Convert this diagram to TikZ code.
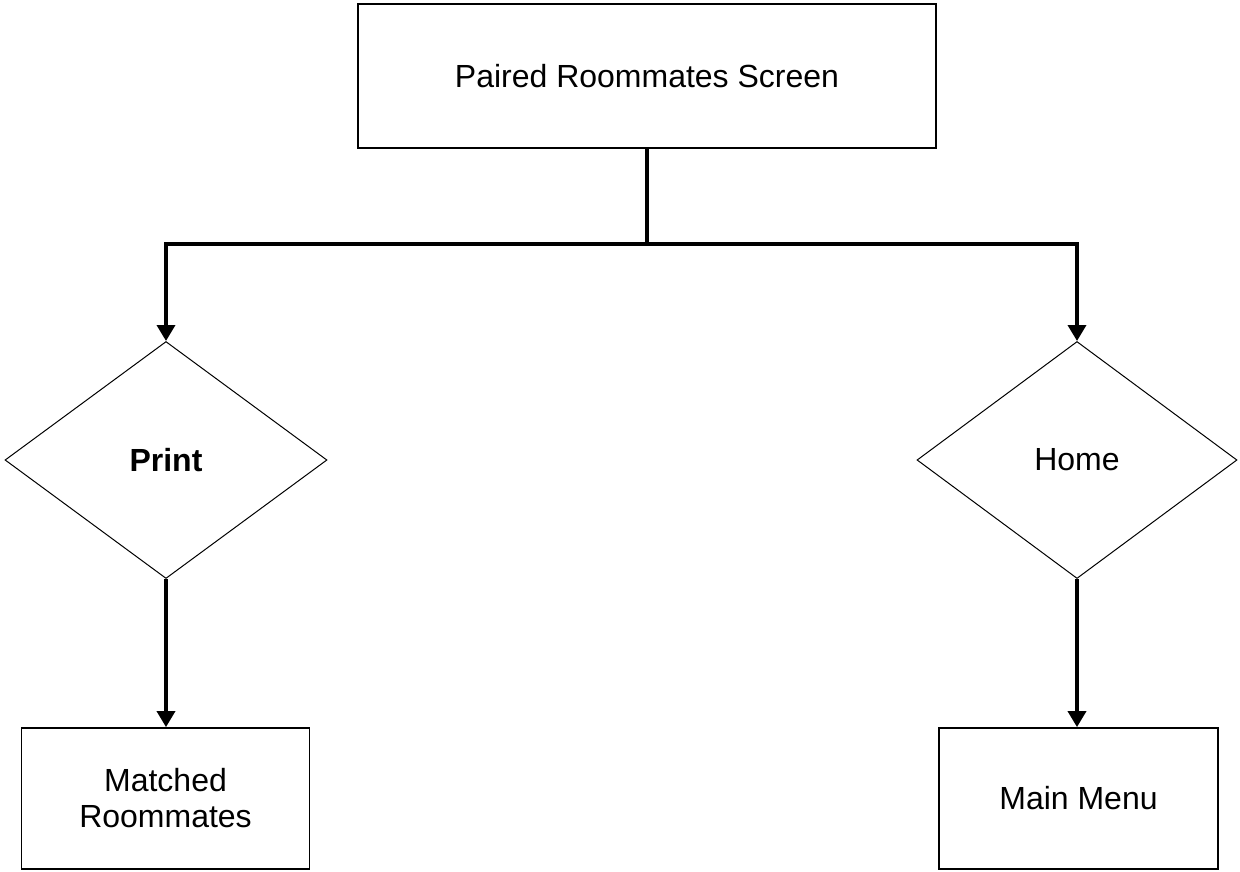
\documentclass[tikz,border=0pt]{standalone}
\usepackage{fontspec}
\setmainfont{Liberation Sans}
\usetikzlibrary{shapes.geometric,arrows.meta}
\begin{document}
\begin{tikzpicture}[x=1pt,y=-1pt,
  every node/.style={font=\fontsize{32}{36}\selectfont, align=center, inner sep=0pt},
  boxnode/.style={draw, line width=1.8pt, rectangle},
  decision/.style={draw, line width=1pt, diamond, aspect=1.35},
  conn/.style={line width=3.6pt},
  arr/.style={conn, -{Triangle[width=18pt,length=16pt]}}]
\useasboundingbox (0,0) rectangle (1240,871);
\fill[white] (0,0) rectangle (1240,871);
\node[boxnode, minimum width=578pt, minimum height=144pt] (top) at (647,76) {Paired Roommates Screen};
\node[decision, minimum width=322pt, minimum height=237pt] (print) at (166,460) {\bfseries Print};
\node[decision, minimum width=320pt, minimum height=237pt] (home) at (1077,460) {Home};
\node[boxnode, minimum width=288pt, minimum height=141pt] (matched) at (165.5,798.5) {Matched\\Roommates};
\node[boxnode, minimum width=279pt, minimum height=141pt] (menu) at (1078.5,798.5) {Main Menu};
\coordinate (j) at (647,244);
\draw[conn] (top.south) -- (j);
\draw[arr] (j) -| (print.north);
\draw[arr] (j) -| (home.north);
\draw[arr] (print.south) -- (print.south |- matched.north);
\draw[arr] (home.south) -- (home.south |- menu.north);
\end{tikzpicture}
\end{document}
